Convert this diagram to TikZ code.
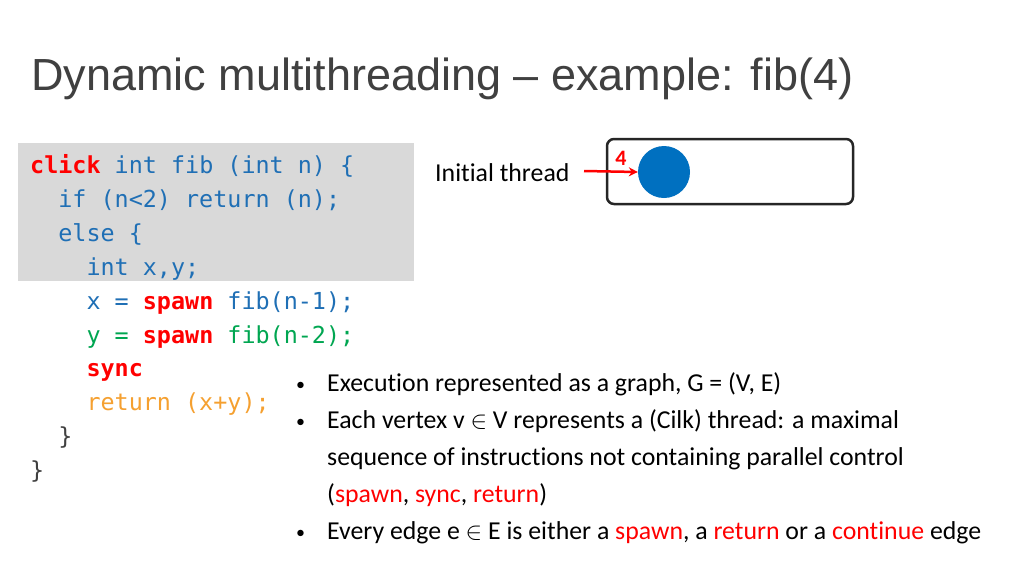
\documentclass[tikz,border=0pt]{standalone}
\usepackage{fontspec}
\setmainfont[Ligatures=NoCommon]{Carlito}
\newfontfamily\titlefont{Liberation Sans}
\newfontfamily\codefont{DejaVu Sans Mono}
\usetikzlibrary{arrows.meta}
\definecolor{cblue}{HTML}{1F6FB5}
\definecolor{cgreen}{HTML}{00A651}
\definecolor{cred}{HTML}{FF0000}
\definecolor{corange}{HTML}{F5A030}
\definecolor{ctitle}{HTML}{404040}
\definecolor{cgray}{HTML}{D9D9D9}
\definecolor{cdot}{HTML}{0070C0}
\begin{document}
\begin{tikzpicture}[x=1pt,y=-1pt,
  codeline/.style={anchor=base west,inner sep=0pt,font=\codefont\fontsize{23.4}{26}\selectfont,text=cblue},
  bul/.style={anchor=base west,inner sep=0pt,font=\fontsize{25.8}{28}\selectfont}]
\useasboundingbox (0,0) rectangle (1024,576);
\fill[white] (0,0) rectangle (1024,576);
\node[anchor=base west,inner sep=0pt,font=\titlefont\fontsize{45}{50}\selectfont,text=ctitle] (title) at (31,90) {Dynamic multithreading \textendash{} example: fib(4)};
\fill[cgray] (18,143) rectangle (414,281);
\node[codeline] (l1) at (30,173) {\textcolor{cred}{\bfseries click} int fib (int n) \{};
\node[codeline] (l2) at (30,207) {\ \ if (n<2) return (n);};
\node[codeline] (l3) at (30,241) {\ \ else \{};
\node[codeline] (l4) at (30,275) {\ \ \ \ int x,y;};
\node[codeline] (l5) at (30,309) {\ \ \ \ x = \textcolor{cred}{\bfseries spawn} fib(n-1);};
\node[codeline,text=cgreen] (l6) at (30,343) {\ \ \ \ y = \textcolor{cred}{\bfseries spawn} fib(n-2);};
\node[codeline,text=cred] (l7) at (30,376) {\ \ \ \ \bfseries sync};
\node[codeline,text=corange] (l8) at (30,410) {\ \ \ \ return (x+y);};
\node[codeline,text=ctitle] (l9) at (30,444) {\ \ \}};
\node[codeline,text=ctitle] (l10) at (30,478) {\}};
\node[bul] (b1) at (327,391) {Execution represented as a graph, G = (V, E)};
\node[bul] (b2) at (327,428) {Each vertex v \(\in\) V represents a (Cilk) thread: a maximal};
\node[bul] (b3) at (327,465) {sequence of instructions not containing parallel control};
\node[bul] (b4) at (327,502) {(\textcolor{cred}{spawn}, \textcolor{cred}{sync}, \textcolor{cred}{return})};
\node[bul] (b5) at (327,539) {Every edge e \(\in\) E is either a \textcolor{cred}{spawn}, a \textcolor{cred}{return} or a \textcolor{cred}{continue} edge};
\foreach \y in {391,428,539} \node[bul,font=\fontsize{18}{20}\selectfont] at (296,\y-1) {\textbullet};
\draw[line width=2.5pt,rounded corners=7pt,draw=black!85] (607,139) rectangle (853,204);
\node[circle,fill=cdot,minimum size=52pt,inner sep=0pt] (v) at (664,172) {};
\node[anchor=base west,inner sep=0pt,font=\fontsize{25.8}{28}\selectfont] (init) at (435,181) {Initial thread};
\node[inner sep=0pt,font=\bfseries\fontsize{22}{24}\selectfont,text=cred] (four) at (621,158) {4};
\coordinate (as) at (584,171);
\draw[cred,line width=2.5pt,-{Stealth[length=9pt,width=9pt]}] (as) -- (v.west);
\end{tikzpicture}
\end{document}
